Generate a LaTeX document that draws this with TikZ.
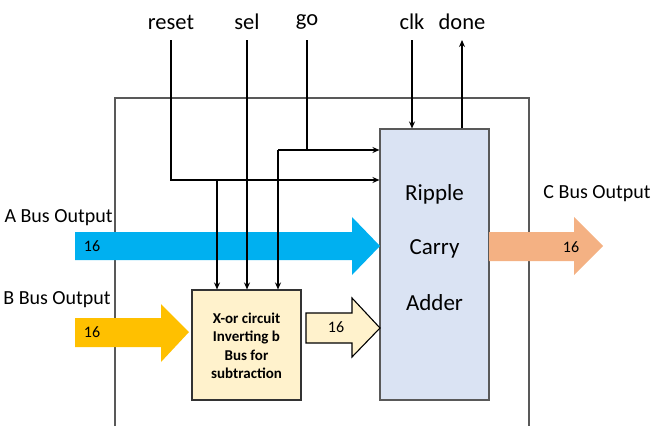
\documentclass[tikz,border=0pt]{standalone}
\usepackage{fontspec}
\setmainfont{Carlito}
\usetikzlibrary{arrows.meta}
\definecolor{abus}{HTML}{00B0F0}
\definecolor{bbus}{HTML}{FFC000}
\definecolor{cbus}{HTML}{F4B183}
\definecolor{xorfill}{HTML}{FFF2CC}
\definecolor{adderfill}{HTML}{DAE3F3}
\definecolor{frame}{HTML}{595959}
\tikzset{
  sig/.style={draw=black, line width=1.1pt},
  sigin/.style={sig, -{Stealth[length=7pt,width=6pt]}},
  siglabel/.style={font=\fontsize{22.5}{22.5}\selectfont, inner sep=0pt},
  buslabel/.style={font=\fontsize{20}{20}\selectfont, inner sep=0pt},
  width16/.style={font=\fontsize{16}{16}\selectfont, inner sep=0pt},
  adderbox/.style={draw=frame, line width=1.1pt, fill=adderfill,
    minimum width=109pt, minimum height=271pt, inner sep=0pt},
  xorbox/.style={draw=black!80, line width=1.1pt, fill=xorfill,
    minimum width=109pt, minimum height=110pt, inner sep=0pt},
  addertext/.style={font=\fontsize{23}{23}\selectfont, inner sep=0pt},
  xortext/.style={font=\bfseries\fontsize{15}{18.5}\selectfont, align=center, inner sep=0pt},
}
\begin{document}
\begin{tikzpicture}[x=1pt, y=-1pt]
\useasboundingbox (0,0) rectangle (652,426);

% enclosing frame, open at the bottom
\draw[frame, line width=1.2pt] (115,426) |- (529,98) -- (529,426);

% main blocks
\node[adderbox] (adder) at (434.5,264.5) {};
\node[addertext] (t1) at (434.5,194) {Ripple};
\node[addertext] (t2) at (434.5,248.5) {Carry};
\node[addertext] (t3) at (434.5,303) {Adder};

\node[xorbox] (xor) at (246.5,345) {};
\node[xortext] (xortxt) at (246.5,346) {X-or circuit\\Inverting b\\Bus for\\subtraction};

% buses
\fill[abus] (75,232) -- (352,232) -- (352,217) -- (380,246) -- (352,275) -- (352,260) -- (75,260) -- cycle;
\node[width16] (a16) at (92,246) {16};
\fill[bbus] (75,318) -- (161,318) -- (161,304) -- (189,332) -- (161,362) -- (161,347) -- (75,347) -- cycle;
\node[width16] (b16) at (92,332) {16};
\draw[black, line width=1.1pt, fill=xorfill, line join=miter]
  (306,313) -- (352,313) -- (352,298) -- (380,328) -- (352,357) -- (352,343) -- (306,343) -- cycle;
\node[width16] (x16) at (336,327) {16};
\fill[cbus] (489,232) -- (574,232) -- (574,217) -- (603,246) -- (574,275) -- (574,261) -- (489,261) -- cycle;
\node[width16] (c16) at (571,247) {16};

\node[buslabel] (alab) at (58.5,218) {A Bus Output};
\node[buslabel] (blab) at (57,300) {B Bus Output};
\node[buslabel] (clab) at (597,194) {C Bus Output};

% control signals
\node[siglabel] (reset) at (171,22) {reset};
\node[siglabel] (sel) at (247,22) {sel};
\node[siglabel] (go) at (307,22) {go};
\node[siglabel] (clk) at (412,22) {clk};
\node[siglabel] (done) at (462,22) {done};

\coordinate (rtop) at (171,40);
\coordinate (stop) at (247,40);
\coordinate (gtop) at (307,40);
\coordinate (ctop) at (412,40);
\coordinate (dtop) at (462,40);
\coordinate (rj) at (217,180);
\coordinate (gj) at (307,150);
\coordinate (gl) at (278,150);

\draw[sigin] (rtop) |- (adder.west |- rj);
\draw[sigin] (rj) -- (rj |- xor.north);
\draw[sigin] (stop) -- (stop |- xor.north);
\draw[sig] (gtop) -- (gj);
\draw[sigin] (gl) -- (adder.west |- gl);
\draw[sigin] (gl) -- (gl |- xor.north);
\draw[sigin] (ctop) -- (ctop |- adder.north);
\draw[sigin] (dtop |- adder.north) -- (dtop);
\end{tikzpicture}
\end{document}
